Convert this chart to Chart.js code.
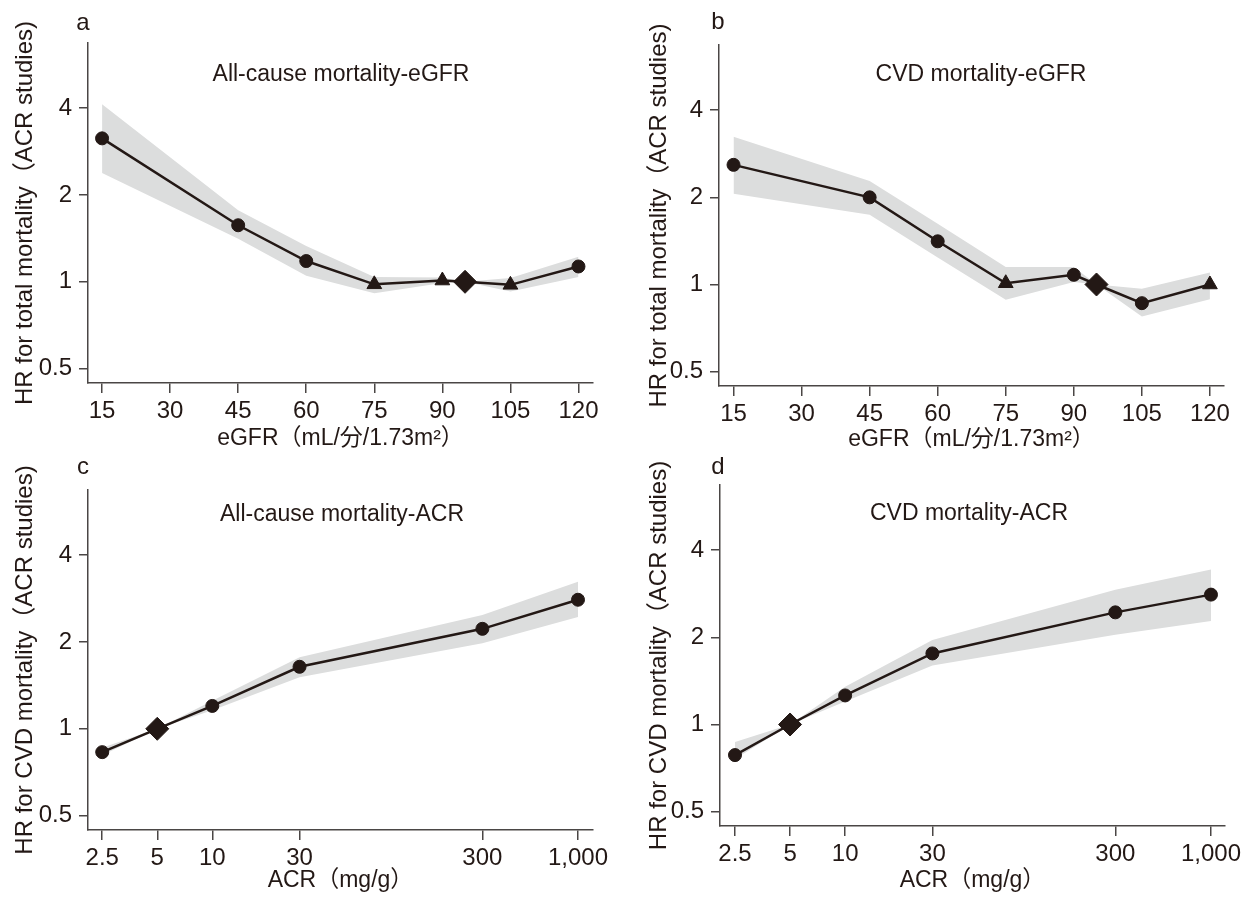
<!DOCTYPE html>
<html lang="ja">
<head>
<meta charset="utf-8">
<title>HR by eGFR and ACR</title>
<script src="https://cdn.jsdelivr.net/npm/chart.js@4.4.1/dist/chart.umd.min.js"></script>
<style>
  html, body { margin: 0; padding: 0; background: #fff; }
  #wrap { position: relative; width: 1241px; height: 897px; overflow: hidden; }
  #wrap canvas { position: absolute; }
</style>
</head>
<body>
<div id="wrap">
  <canvas id="panelA"></canvas>
  <canvas id="panelB"></canvas>
  <canvas id="panelC"></canvas>
  <canvas id="panelD"></canvas>
</div>
<script>
// x positions of the estimates
const egfrPoints = [15, 45, 60, 75, 90, 95, 105, 120];
const acrPoints = [2.5, 5, 10, 30, 300, 1000];

// tick labels
const egfrTicks = [15, 30, 45, 60, 75, 90, 105, 120];
const acrTicks = [2.5, 5, 10, 30, 300, 1000];
const hrTicks = [0.5, 1, 2, 4];

// a: all-cause mortality by eGFR
const allCauseEgfrHr = [3.14, 1.57, 1.18, 0.98, 1.01, 1.0, 0.976, 1.13];
const allCauseEgfrUpper = [4.12, 1.77, 1.33, 1.04, 1.035, 1.0, 1.03, 1.22];
const allCauseEgfrLower = [2.38, 1.41, 1.05, 0.913, 0.99, 1.0, 0.925, 1.04];
const allCauseEgfrMarkers = ['circle', 'circle', 'circle', 'triangle', 'triangle', 'rectRot', 'triangle', 'circle'];

// b: CVD mortality by eGFR
const cvdEgfrHr = [2.59, 2.0, 1.41, 1.01, 1.08, 1.0, 0.862, 1.0];
const cvdEgfrUpper = [3.24, 2.28, 1.62, 1.15, 1.15, 1.0, 0.966, 1.10];
const cvdEgfrLower = [2.06, 1.74, 1.24, 0.886, 1.02, 1.0, 0.775, 0.89];
const cvdEgfrMarkers = ['circle', 'circle', 'circle', 'triangle', 'circle', 'rectRot', 'circle', 'triangle'];

// c: all-cause mortality by ACR
const allCauseAcrHr = [0.83, 1.0, 1.2, 1.64, 2.22, 2.8];
const allCauseAcrUpper = [0.86, 1.0, 1.25, 1.77, 2.48, 3.23];
const allCauseAcrLower = [0.81, 1.0, 1.16, 1.51, 1.98, 2.44];
const allCauseAcrMarkers = ['circle', 'rectRot', 'circle', 'circle', 'circle', 'circle'];

// d: CVD mortality by ACR
const cvdAcrHr = [0.784, 1.0, 1.26, 1.76, 2.44, 2.81];
const cvdAcrUpper = [0.87, 1.0, 1.35, 1.96, 2.92, 3.43];
const cvdAcrLower = [0.76, 1.0, 1.2, 1.6, 2.04, 2.28];
const cvdAcrMarkers = ['circle', 'rectRot', 'circle', 'circle', 'circle', 'circle'];

const ink = '#231815';
const axisColor = '#4a4645';
const bandColor = '#dcdddd';
const fontFamily = "'Liberation Sans', Arial, 'Noto Sans CJK JP', sans-serif";
const markerSize = { circle: 6.5, triangle: 8.5, rectRot: 11.5 };

const panels = [
  {
    id: 'panelA', letter: 'a', title: 'All-cause mortality-eGFR',
    xTitle: 'eGFR（mL/分/1.73m²）', yTitle: 'HR for total mortality（ACR studies)',
    x: egfrPoints, xTicks: egfrTicks, xType: 'linear', xMin: 11.9, xMax: 123.2,
    hr: allCauseEgfrHr, upper: allCauseEgfrUpper, lower: allCauseEgfrLower, markers: allCauseEgfrMarkers,
    box: { left: 0, top: 0, width: 620, height: 460 },
    area: { left: 88, right: 593, top: 43, bottom: 383 },
    xTitleY: 439, letterAt: [83, 23], titleAt: [341, 75]
  },
  {
    id: 'panelB', letter: 'b', title: 'CVD mortality-eGFR',
    xTitle: 'eGFR（mL/分/1.73m²）', yTitle: 'HR for total mortality（ACR studies)',
    x: egfrPoints, xTicks: egfrTicks, xType: 'linear', xMin: 11.8, xMax: 123.1,
    hr: cvdEgfrHr, upper: cvdEgfrUpper, lower: cvdEgfrLower, markers: cvdEgfrMarkers,
    box: { left: 634, top: 0, width: 607, height: 460 },
    area: { left: 85, right: 590, top: 45, bottom: 386 },
    xTitleY: 440, letterAt: [84, 22], titleAt: [347, 75]
  },
  {
    id: 'panelC', letter: 'c', title: 'All-cause mortality-ACR',
    xTitle: 'ACR（mg/g）', yTitle: 'HR for CVD mortality（ACR studies)',
    x: acrPoints, xTicks: acrTicks, xType: 'logarithmic', xMin: 2.09, xMax: 1208,
    hr: allCauseAcrHr, upper: allCauseAcrUpper, lower: allCauseAcrLower, markers: allCauseAcrMarkers,
    box: { left: 0, top: 447, width: 620, height: 450 },
    area: { left: 88, right: 593, top: 43, bottom: 383 },
    xTitleY: 434, letterAt: [83, 20], titleAt: [342, 68]
  },
  {
    id: 'panelD', letter: 'd', title: 'CVD mortality-ACR',
    xTitle: 'ACR（mg/g）', yTitle: 'HR for CVD mortality（ACR studies)',
    x: acrPoints, xTicks: acrTicks, xType: 'logarithmic', xMin: 2.07, xMax: 1193,
    hr: cvdAcrHr, upper: cvdAcrUpper, lower: cvdAcrLower, markers: cvdAcrMarkers,
    box: { left: 634, top: 447, width: 607, height: 450 },
    area: { left: 86, right: 591, top: 38, bottom: 379 },
    xTitleY: 434, letterAt: [84, 20], titleAt: [335, 67]
  }
];

// panel letter and in-plot heading
const panelText = {
  id: 'panelText',
  afterDraw(chart, args, opts) {
    const ctx = chart.ctx;
    ctx.save();
    ctx.fillStyle = ink;
    ctx.textAlign = 'center';
    ctx.textBaseline = 'middle';
    ctx.font = '24px ' + fontFamily;
    ctx.fillText(opts.letter, opts.letterAt[0], opts.letterAt[1]);
    ctx.font = '23px ' + fontFamily;
    ctx.fillText(opts.title, opts.titleAt[0], opts.titleAt[1]);
    ctx.restore();
  }
};

function points(xs, ys) {
  return xs.map((x, i) => ({ x: x, y: ys[i] }));
}

panels.forEach(p => {
  const canvas = document.getElementById(p.id);
  canvas.width = p.box.width;
  canvas.height = p.box.height;
  canvas.style.left = p.box.left + 'px';
  canvas.style.top = p.box.top + 'px';

  const titleLine = 23 * 1.2;
  const xHeight = p.xTitleY - p.area.bottom + titleLine / 2;
  const padBottom = p.box.height - p.area.bottom - xHeight;

  new Chart(canvas.getContext('2d'), {
    type: 'line',
    data: {
      datasets: [
        {
          data: points(p.x, p.hr),
          borderColor: ink,
          borderWidth: 2.5,
          pointStyle: p.markers,
          pointRadius: p.markers.map(m => markerSize[m]),
          pointBackgroundColor: ink,
          pointBorderColor: ink,
          pointBorderWidth: 1,
          fill: false,
          tension: 0
        },
        {
          data: points(p.x, p.upper),
          borderWidth: 0,
          borderColor: 'rgba(0,0,0,0)',
          pointRadius: 0,
          backgroundColor: bandColor,
          fill: '+1',
          tension: 0
        },
        {
          data: points(p.x, p.lower),
          borderWidth: 0,
          borderColor: 'rgba(0,0,0,0)',
          pointRadius: 0,
          fill: false,
          tension: 0
        }
      ]
    },
    options: {
      responsive: false,
      animation: false,
      events: [],
      layout: {
        padding: { top: p.area.top, right: p.box.width - p.area.right, bottom: padBottom, left: 0 }
      },
      plugins: {
        legend: { display: false },
        tooltip: { enabled: false },
        filler: { drawTime: 'beforeDatasetsDraw' },
        panelText: { letter: p.letter, letterAt: p.letterAt, title: p.title, titleAt: p.titleAt }
      },
      scales: {
        x: {
          type: p.xType,
          min: p.xMin,
          max: p.xMax,
          afterBuildTicks: axis => { axis.ticks = p.xTicks.map(v => ({ value: v })); },
          afterFit: axis => {
            axis.height = xHeight;
            axis.paddingLeft = 0;
            axis.paddingRight = 0;
          },
          grid: { drawOnChartArea: false, drawTicks: true, tickLength: 10, color: axisColor, lineWidth: 1.5 },
          border: { display: true, color: axisColor, width: 1.5 },
          ticks: {
            autoSkip: false, maxRotation: 0, minRotation: 0, padding: 4,
            color: ink, font: { family: fontFamily, size: 24 },
            callback: v => Number(v).toLocaleString('en-US')
          },
          title: {
            display: true, text: p.xTitle, color: ink,
            font: { family: fontFamily, size: 23 }, padding: { top: 0, bottom: 0 }
          }
        },
        y: {
          type: 'logarithmic',
          min: 0.446,
          max: 6.72,
          afterBuildTicks: axis => { axis.ticks = hrTicks.map(v => ({ value: v })); },
          afterFit: axis => { axis.width = p.area.left; },
          grid: { drawOnChartArea: false, drawTicks: true, tickLength: 9, color: axisColor, lineWidth: 1.5 },
          border: { display: true, color: axisColor, width: 1.5 },
          ticks: {
            padding: 7, color: ink, font: { family: fontFamily, size: 24 },
            callback: v => String(v)
          },
          title: {
            display: true, text: p.yTitle, color: ink,
            font: { family: fontFamily, size: 24 }, padding: { top: 11, bottom: 0 }
          }
        }
      }
    },
    plugins: [panelText]
  });
});
</script>
</body>
</html>
